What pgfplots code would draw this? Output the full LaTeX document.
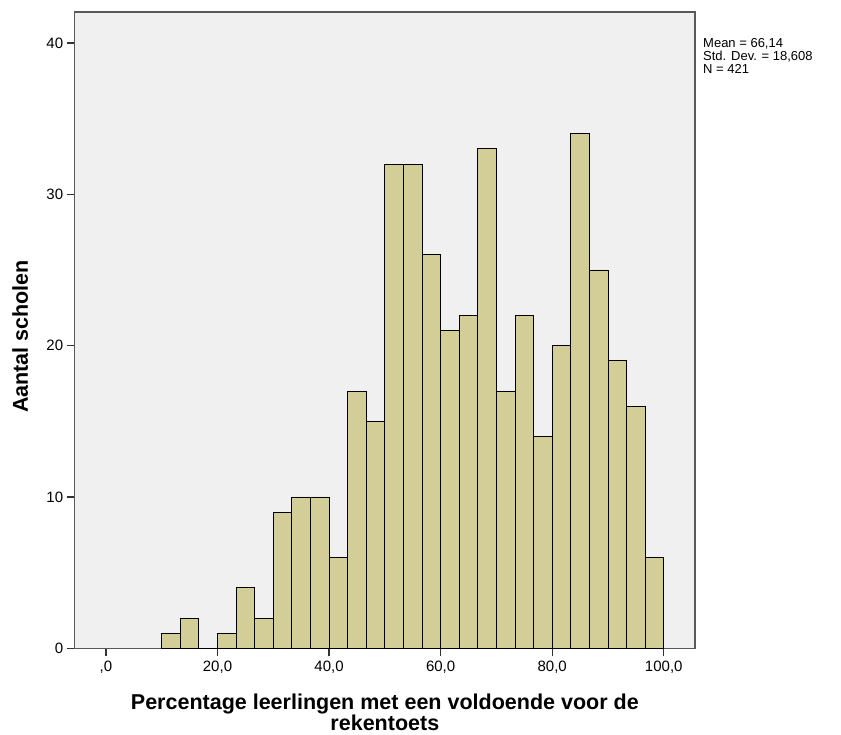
\documentclass[border=0pt]{standalone}
\usepackage{fontspec}
\setmainfont{Liberation Sans}
\usepackage{pgfplots}
\pgfplotsset{compat=1.18}
\definecolor{barfill}{HTML}{D3CE97}
\definecolor{bg}{HTML}{F0F0F0}
\begin{document}
\begin{tikzpicture}
\begin{axis}[
  scale only axis, width=620.3pt, height=636.3pt,
  xmin=-5.6, xmax=105.6, ymin=0, ymax=42.05,
  clip=false,
  axis background/.style={fill=bg},
  axis line style={draw=black!65, line width=1.3pt},
  xtick={0,20,40,60,80,100},
  xticklabels={{,0},{20,0},{40,0},{60,0},{80,0},{100,0}},
  ytick={0,10,20,30,40},
  tick pos=left,
  tick align=outside, major tick length=8pt,
  tick style={black!80, line width=1.2pt},
  /pgf/number format/assume math mode=true,
  ticklabel style={font=\fontsize{15}{17}\selectfont},
  xticklabel style={yshift=-1pt},
  xlabel={Percentage leerlingen met een voldoende voor de\\rekentoets},
  xlabel style={font=\bfseries\fontsize{21.5}{19.5}\selectfont, align=center, at={(axis description cs:0.5,0)}, anchor=north, inner sep=0pt, yshift=-45pt},
  ylabel={Aantal scholen},
  ylabel style={font=\bfseries\fontsize{21.5}{22}\selectfont, at={(axis description cs:-0.0753,0.49)}, anchor=base, inner sep=0pt},
]
\addplot[ybar interval, fill=barfill, draw=black, line width=0.9pt] coordinates {
(10,1) (13.3333,2) (16.6667,0) (20,1) (23.3333,4) (26.6667,2) (30,9) (33.3333,10) (36.6667,10)
(40,6) (43.3333,17) (46.6667,15) (50,32) (53.3333,32) (56.6667,26) (60,21) (63.3333,22) (66.6667,33)
(70,17) (73.3333,22) (76.6667,14) (80,20) (83.3333,34) (86.6667,25) (90,19) (93.3333,16) (96.6667,6) (100,6)
};
\node[anchor=north west, align=left, inner sep=0pt, font=\fontsize{13}{13}\selectfont] at (rel axis cs:1,1) [xshift=8pt, yshift=-26pt] {Mean = 66,14\\Std. Dev. = 18,608\\N = 421};
\coordinate (O) at (rel axis cs:0,0);
\end{axis}
\path (O) ++(-74.7pt,-86.7pt) rectangle ++(841pt,735pt);
\end{tikzpicture}
\end{document}
